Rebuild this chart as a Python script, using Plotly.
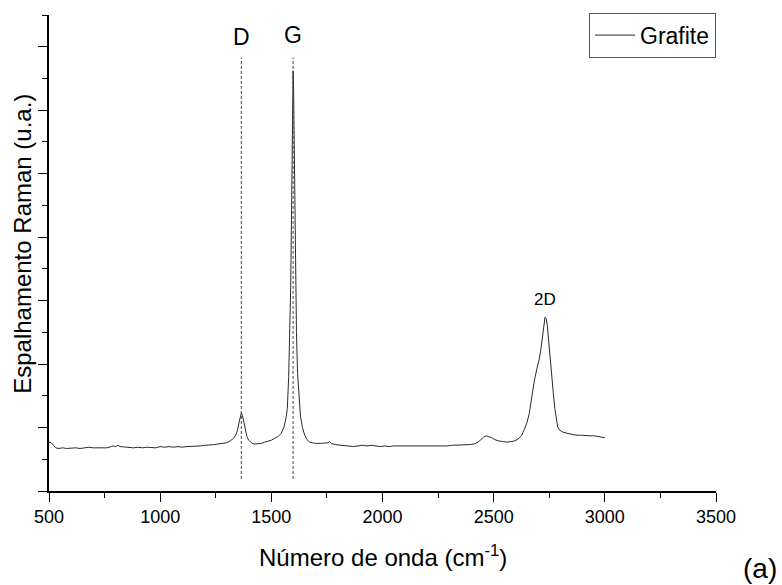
import plotly.graph_objects as go

# ---- data ----
wavenumber = [500, 510, 520, 530, 545, 560, 580, 600, 620, 640, 660, 680, 700, 720, 740, 760, 780, 790, 800, 810,
              820, 840, 860, 880, 900, 920, 940, 960, 980, 1000, 1020, 1040, 1060, 1080, 1100, 1120, 1140, 1160,
              1180, 1200, 1220, 1240, 1260, 1280, 1300, 1315, 1330, 1340, 1348, 1355, 1360, 1365, 1370, 1376,
              1383, 1390, 1398, 1406, 1415, 1425, 1440, 1455, 1470, 1485, 1500, 1515, 1531, 1545, 1556, 1565,
              1572, 1578, 1583, 1587, 1590, 1592, 1594, 1596, 1598, 1600, 1602, 1604, 1606, 1609, 1613, 1618,
              1624, 1631, 1640, 1650, 1660, 1672, 1685, 1700, 1720, 1740, 1755, 1762, 1770, 1790, 1810, 1830,
              1850, 1870, 1890, 1910, 1930, 1950, 1970, 1990, 2010, 2030, 2050, 2070, 2090, 2110, 2130, 2150,
              2170, 2190, 2210, 2230, 2250, 2270, 2290, 2310, 2330, 2350, 2370, 2390, 2410, 2425, 2440, 2455,
              2466, 2478, 2490, 2505, 2520, 2540, 2560, 2580, 2595, 2610, 2625, 2638, 2650, 2660, 2670, 2682,
              2694, 2705, 2713, 2720, 2726, 2731, 2736, 2741, 2747, 2753, 2760, 2768, 2775, 2781, 2788, 2796,
              2810, 2830, 2850, 2870, 2890, 2910, 2930, 2950, 2970, 2985, 3000]
intensity = [0.77, 0.76, 0.72, 0.68, 0.67, 0.68, 0.67, 0.68, 0.68, 0.67, 0.68, 0.69, 0.68, 0.68, 0.69, 0.68, 0.70,
             0.71, 0.70, 0.72, 0.70, 0.69, 0.68, 0.68, 0.69, 0.68, 0.69, 0.68, 0.68, 0.70, 0.69, 0.70, 0.69, 0.70,
             0.69, 0.70, 0.70, 0.71, 0.71, 0.72, 0.72, 0.73, 0.74, 0.75, 0.76, 0.79, 0.83, 0.88, 0.96, 1.08, 1.18,
             1.23, 1.19, 1.08, 0.95, 0.86, 0.80, 0.77, 0.75, 0.74, 0.74, 0.75, 0.77, 0.78, 0.80, 0.83, 0.86, 0.91,
             1.00, 1.13, 1.30, 1.80, 2.45, 3.20, 4.10, 4.80, 5.60, 6.30, 6.62, 6.35, 5.70, 4.95, 4.20, 3.30, 2.50,
             1.85, 1.45, 1.18, 1.00, 0.88, 0.81, 0.77, 0.76, 0.75, 0.75, 0.75, 0.76, 0.78, 0.75, 0.73, 0.72, 0.71,
             0.70, 0.70, 0.71, 0.72, 0.71, 0.72, 0.71, 0.70, 0.71, 0.70, 0.71, 0.71, 0.70, 0.71, 0.70, 0.70, 0.71,
             0.71, 0.71, 0.71, 0.71, 0.71, 0.71, 0.72, 0.72, 0.72, 0.73, 0.73, 0.74, 0.76, 0.80, 0.85, 0.87, 0.86,
             0.84, 0.81, 0.79, 0.78, 0.77, 0.78, 0.79, 0.82, 0.87, 0.97, 1.08, 1.22, 1.45, 1.72, 1.92, 2.08, 2.25,
             2.48, 2.65, 2.74, 2.72, 2.62, 2.38, 2.10, 1.82, 1.55, 1.30, 1.12, 1.01, 0.96, 0.93, 0.91, 0.89, 0.88,
             0.88, 0.87, 0.87, 0.87, 0.86, 0.85, 0.84]
series_name = "Grafite"

peak_labels = ["D", "G"]
peak_positions = [1365, 1598]
peak_line_bottom = [0.19, 0.19]
peak_line_top = [6.83, 6.83]
peak_label_heights = [7.15, 7.18]

band2d_label = "2D"
band2d_position = 2731
band2d_label_height = 3.02

x_ticks = [500, 1000, 1500, 2000, 2500, 3000, 3500]

FONT = "Liberation Sans, Arial, sans-serif"

fig = go.Figure()
fig.add_trace(go.Scatter(x=wavenumber, y=intensity, mode="lines", name=series_name,
                         line=dict(color="#2a2a2a", width=1)))

for pos, y0, y1 in zip(peak_positions, peak_line_bottom, peak_line_top):
    fig.add_shape(type="line", xref="x", yref="y", x0=pos, x1=pos, y0=y0, y1=y1,
                  line=dict(color="#444444", width=1, dash="3px,2px"))

for lab, pos, h in zip(peak_labels, peak_positions, peak_label_heights):
    fig.add_annotation(x=pos, y=h, xref="x", yref="y", text=lab, showarrow=False,
                       font=dict(family=FONT, size=23, color="black"))

fig.add_annotation(x=band2d_position, y=band2d_label_height, xref="x", yref="y", text=band2d_label,
                   showarrow=False, font=dict(family=FONT, size=17, color="black"))

fig.add_annotation(x=0.5, y=-0.137, xref="paper", yref="paper", text="Número de onda (cm<sup>-1</sup>)",
                   showarrow=False, yanchor="middle", font=dict(family=FONT, size=24, color="black"))
fig.add_annotation(x=-0.04, y=0.52, xref="paper", yref="paper", text="Espalhamento Raman (u.a.)",
                   showarrow=False, textangle=-90, xanchor="center", yanchor="middle",
                   font=dict(family=FONT, size=24, color="black"))
fig.add_annotation(x=1.066, y=-0.162, xref="paper", yref="paper", text="(a)",
                   showarrow=False, xanchor="center", yanchor="middle",
                   font=dict(family=FONT, size=28, color="black"))

fig.update_layout(
    width=782, height=585,
    margin=dict(l=49, r=66, t=15, b=94),
    paper_bgcolor="white", plot_bgcolor="white",
    showlegend=True,
    legend=dict(x=1, y=1.005, xanchor="right", yanchor="top", bordercolor="#555555", borderwidth=1,
                bgcolor="white", font=dict(family=FONT, size=23, color="black"),
                tracegroupgap=0, itemwidth=40),
    font=dict(family=FONT, color="black"),
)
fig.update_xaxes(range=[500, 3500], tickvals=x_ticks, ticks="outside", ticklen=9, tickwidth=1,
                 tickcolor="black", showline=True, linecolor="black", linewidth=1.5, showgrid=False,
                 zeroline=False, tickfont=dict(family=FONT, size=18, color="black"),
                 minor=dict(dtick=250, ticks="outside", ticklen=5, tickcolor="black", tickwidth=1))
fig.update_yaxes(range=[0, 7.5], dtick=1, tick0=0, ticks="outside", ticklen=9, tickwidth=1,
                 tickcolor="black", showline=True, linecolor="black", linewidth=1.5, showgrid=False,
                 zeroline=False, showticklabels=False,
                 minor=dict(dtick=0.5, tick0=0, ticks="outside", ticklen=5, tickcolor="black", tickwidth=1))

fig.write_html("out.html")
